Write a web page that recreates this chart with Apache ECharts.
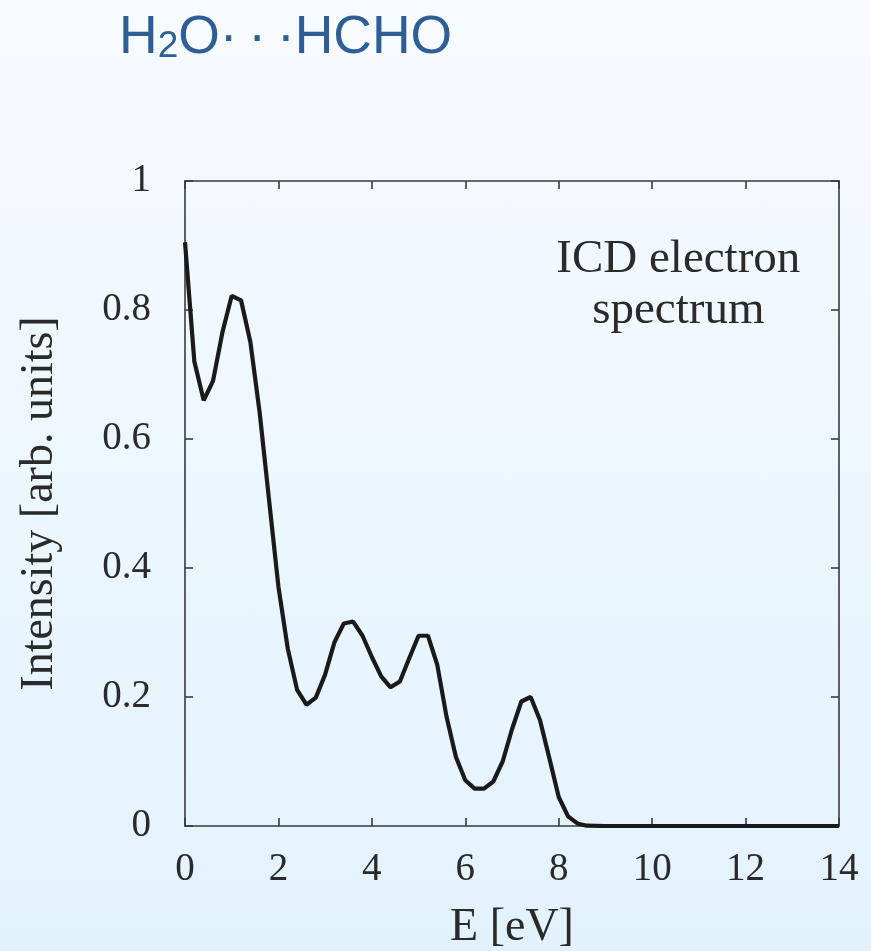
<!DOCTYPE html>
<html>
<head>
<meta charset="utf-8">
<script src="https://cdn.jsdelivr.net/npm/echarts@6/dist/echarts.min.js"></script>
<style>
html,body{margin:0;padding:0;}
#chart{width:871px;height:951px;background:linear-gradient(180deg,#f7fbfe 0%,#e2f2fd 100%);}
</style>
</head>
<body>
<div id="chart"></div>
<script>
// Energies (eV) and ICD electron intensities
const energy = [0,0.2,0.4,0.6,0.8,1.0,1.2,1.4,1.6,1.8,2.0,2.2,2.4,2.6,2.8,3.0,3.2,3.4,3.6,3.8,4.0,4.2,4.4,4.6,4.8,5.0,5.2,5.4,5.6,5.8,6.0,6.2,6.4,6.6,6.8,7.0,7.2,7.4,7.6,7.8,8.0,8.2,8.4,8.6,9.0,10,11,12,13,14];
const intensity = [0.905,0.72,0.66,0.69,0.765,0.822,0.815,0.75,0.64,0.505,0.371,0.275,0.211,0.188,0.199,0.235,0.285,0.314,0.317,0.295,0.262,0.232,0.215,0.224,0.26,0.295,0.295,0.25,0.169,0.107,0.071,0.058,0.058,0.069,0.10,0.15,0.193,0.20,0.164,0.105,0.045,0.015,0.004,0.0005,0,0,0,0,0,0];
const xTicks = [0,2,4,6,8,10,12,14];
const yTicks = [0,0.2,0.4,0.6,0.8,1];
const titleText = {main1:'H', sub:'2', main2:'O\u00B7\u2009\u00B7\u2009\u00B7HCHO'};
const noteLines = ['ICD electron','spectrum'];

const serif = '"Liberation Serif","DejaVu Serif",serif';
const sans = '"Liberation Sans",Arial,sans-serif';
const chart = echarts.init(document.getElementById('chart'));
const axisLine = {show:true, onZero:false, lineStyle:{color:'#3a3a3a', width:1.6}};
const tick = {show:true, inside:true, length:8, lineStyle:{color:'#3a3a3a', width:1.6}};
const data = energy.map((e,i)=>[e,intensity[i]]);
chart.setOption({
  animation:false,
  title:{
    left:114, top:-2,
    text:'{m|'+titleText.main1+'}{s|'+titleText.sub+'}{m|'+titleText.main2+'}',
    textStyle:{fontWeight:'normal', rich:{
      m:{fontFamily:sans, fontSize:53.5, fontWeight:'normal', color:'#2d5e96', lineHeight:62, verticalAlign:'bottom'},
      s:{fontFamily:sans, fontSize:37, fontWeight:'normal', color:'#2d5e96', lineHeight:30, verticalAlign:'bottom'}
    }}
  },
  grid:{left:185, top:181, right:32, bottom:125, containLabel:false, outerBoundsMode:'none'},
  xAxis:[{
    type:'value', min:0, max:14, interval:2, position:'bottom',
    axisLine, axisTick:tick, splitLine:{show:false},
    axisLabel:{margin:24, fontFamily:serif, fontSize:39, color:'#2a2a2a',
      formatter:v=>xTicks.includes(v)?String(v):''},
    name:'E [eV]', nameLocation:'middle', nameGap:79,
    nameTextStyle:{fontFamily:serif, fontSize:46, color:'#2a2a2a'}
  },{
    type:'value', min:0, max:14, interval:2, position:'top',
    axisLine, axisTick:tick, axisLabel:{show:false}, splitLine:{show:false}
  }],
  yAxis:[{
    type:'value', min:0, max:1, interval:0.2, position:'left',
    axisLine, axisTick:tick, splitLine:{show:false},
    axisLabel:{margin:34, fontFamily:serif, fontSize:39, color:'#2a2a2a',
      formatter:v=>{const t=yTicks.find(y=>Math.abs(y-v)<1e-6);return t===undefined?'':String(t);}},
    name:'Intensity [arb. units]', nameLocation:'middle', nameGap:122,
    nameTextStyle:{fontFamily:serif, fontSize:46, color:'#2a2a2a'}
  },{
    type:'value', min:0, max:1, interval:0.2, position:'right',
    axisLine, axisTick:tick, axisLabel:{show:false}, splitLine:{show:false}
  }],
  series:[{
    type:'line', data, showSymbol:false, smooth:false,
    lineStyle:{color:'#1a1a1a', width:4.2}, z:5
  }]
});
// annotation text placed relative to the data coordinate system
const p = chart.convertToPixel({gridIndex:0},[10.56,0.839]);
chart.setOption({graphic:[{
  type:'text', x:p[0], y:p[1],
  style:{text:noteLines.join('\n'), fontFamily:serif, fontSize:47, lineHeight:51,
    fill:'#2a2a2a', align:'center', verticalAlign:'middle'}
}]});
</script>
</body>
</html>
